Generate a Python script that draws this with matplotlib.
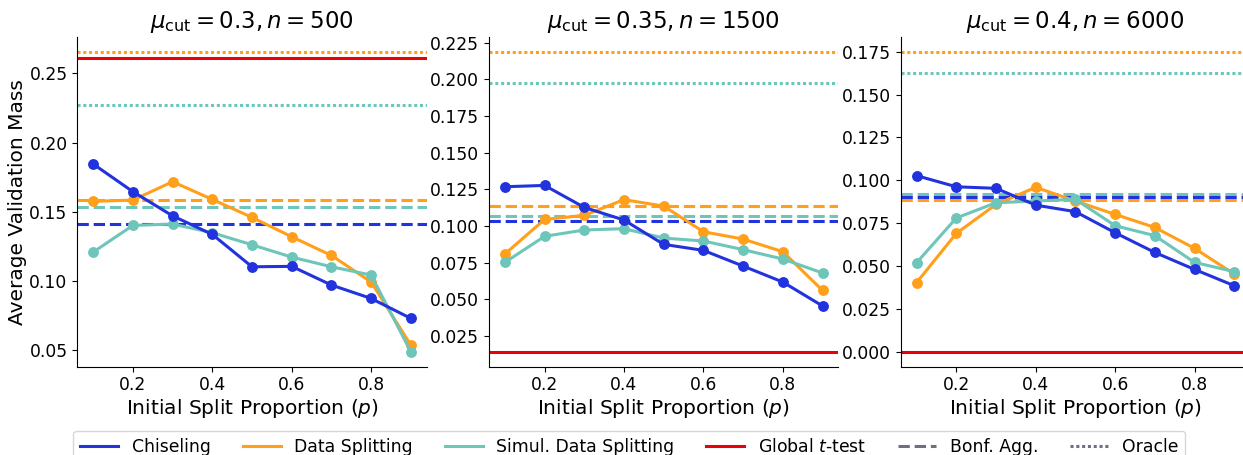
import matplotlib
matplotlib.use("Agg")
import matplotlib.pyplot as plt
from matplotlib.lines import Line2D
from matplotlib.ticker import MultipleLocator

p = [0.1, 0.2, 0.3, 0.4, 0.5, 0.6, 0.7, 0.8, 0.9]

titles = [r"$\mu_{\mathrm{cut}} = 0.3, n = 500$",
          r"$\mu_{\mathrm{cut}} = 0.35, n = 1500$",
          r"$\mu_{\mathrm{cut}} = 0.4, n = 6000$"]
ystep = [0.05, 0.025, 0.025]

chisel = [
    [0.1845, 0.1645, 0.147, 0.1336, 0.1102, 0.1105, 0.097, 0.0873, 0.0729],
    [0.1268, 0.1277, 0.1127, 0.1041, 0.0875, 0.0834, 0.0727, 0.0618, 0.0455],
    [0.1027, 0.0962, 0.0953, 0.0855, 0.0817, 0.0694, 0.0579, 0.0480, 0.0385],
]
split = [
    [0.1575, 0.1584, 0.1717, 0.1589, 0.1459, 0.1319, 0.1184, 0.0992, 0.0536],
    [0.0809, 0.1045, 0.1073, 0.1180, 0.1136, 0.0961, 0.0911, 0.0825, 0.0561],
    [0.0403, 0.0690, 0.0859, 0.0959, 0.0879, 0.0801, 0.0725, 0.0603, 0.0453],
]
simul = [
    [0.1208, 0.1401, 0.1411, 0.1348, 0.1261, 0.1172, 0.1102, 0.1042, 0.0488],
    [0.0752, 0.0930, 0.0973, 0.0982, 0.0918, 0.0898, 0.0839, 0.0775, 0.0680],
    [0.0519, 0.0780, 0.0869, 0.0879, 0.0889, 0.0735, 0.0677, 0.0521, 0.0467],
]

# horizontal reference lines per panel
global_t = [0.2611, 0.0143, 0.0]
bonf_chisel = [0.1408, 0.1034, 0.0904]
bonf_split = [0.1584, 0.1136, 0.0885]
bonf_simul = [0.1531, 0.1070, 0.0922]
oracle_split = [0.2657, 0.2189, 0.175]
oracle_simul = [0.2271, 0.1975, 0.1628]

c_blue = "#2233dd"
c_orange = "#ff9f1a"
c_teal = "#6ec5b9"
c_red = "#e8000b"
c_gray = "#6c7080"
dots = (0, (1, 0.9))

fig = plt.figure(figsize=(12.43, 4.55), dpi=100)
lefts = [77.3 / 1243, 489.0 / 1243, 900.7 / 1243]
w = 349.4 / 1243
b = (455 - 366.7) / 455
h = 330.0 / 455

lw = 2.2
for i in range(3):
    ax = fig.add_axes([lefts[i], b, w, h])
    ax.axhline(oracle_split[i], color=c_orange, ls=dots, lw=lw)
    ax.axhline(oracle_simul[i], color=c_teal, ls=dots, lw=lw)
    ax.axhline(global_t[i], color=c_red, lw=lw)
    ax.axhline(bonf_split[i], color=c_orange, ls="--", lw=lw)
    ax.axhline(bonf_simul[i], color=c_teal, ls="--", lw=lw)
    ax.axhline(bonf_chisel[i], color=c_blue, ls="--", lw=lw)
    ax.plot(p, split[i], color=c_orange, marker="o", ms=6.8, lw=lw)
    ax.plot(p, simul[i], color=c_teal, marker="o", ms=6.8, lw=lw)
    ax.plot(p, chisel[i], color=c_blue, marker="o", ms=6.8, lw=lw)
    ax.spines["top"].set_visible(False)
    ax.spines["right"].set_visible(False)
    ax.set_xticks([0.2, 0.4, 0.6, 0.8])
    ax.yaxis.set_major_locator(MultipleLocator(ystep[i]))
    ax.tick_params(labelsize=12.3)
    ax.set_title(titles[i], fontsize=16.5)
    ax.set_xlabel("Initial Split Proportion ($p$)", fontsize=14.5, labelpad=2)
    if i == 0:
        ax.set_ylabel("Average Validation Mass", fontsize=14.5, labelpad=2)

handles = [
    Line2D([], [], color=c_blue, lw=2.2),
    Line2D([], [], color=c_orange, lw=2.2),
    Line2D([], [], color=c_teal, lw=2.2),
    Line2D([], [], color=c_red, lw=2.2),
    Line2D([], [], color=c_gray, lw=2.2, ls="--"),
    Line2D([], [], color=c_gray, lw=2.2, ls=dots),
]
labels = ["Chiseling", "Data Splitting", "Simul. Data Splitting",
          "Global $t$-test", "Bonf. Agg.", "Oracle"]
fig.legend(handles, labels, loc="upper left", bbox_to_anchor=(0.059, 0.0534),
           borderaxespad=0, ncol=6, fontsize=12.4, columnspacing=1.85,
           handlelength=2.2)

fig.savefig("out.png", dpi=100)
